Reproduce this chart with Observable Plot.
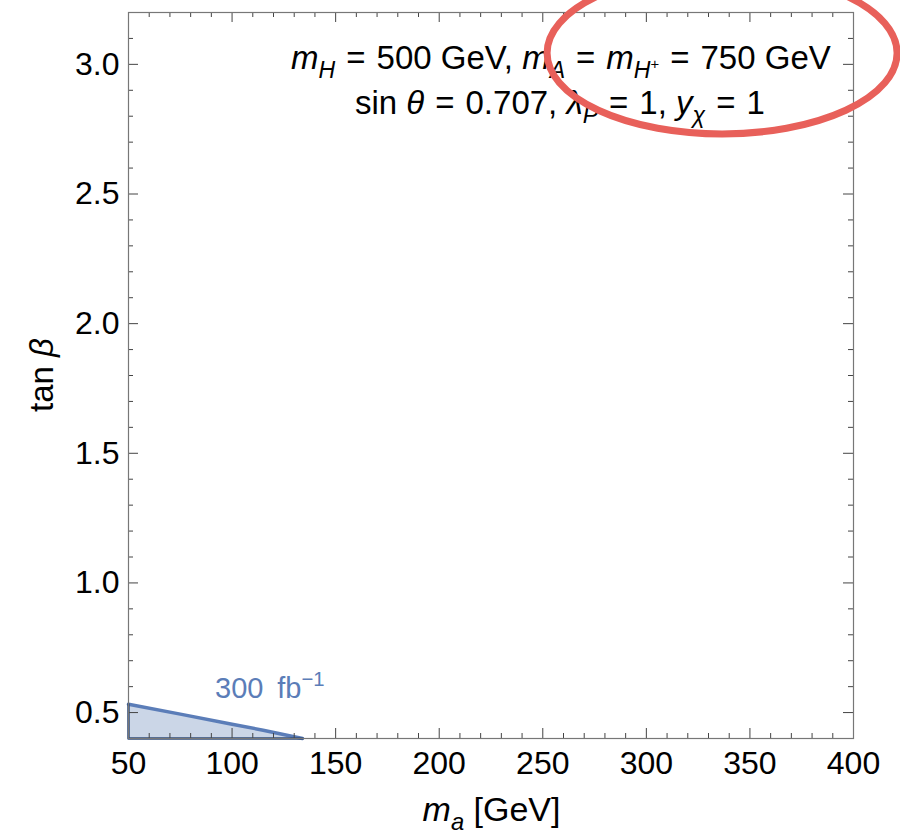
<!DOCTYPE html>
<html>
<head>
<meta charset="utf-8">
<script src="https://cdn.jsdelivr.net/npm/d3@7"></script>
<script src="https://cdn.jsdelivr.net/npm/@observablehq/plot@0.6"></script>
<style>
  html, body { margin: 0; padding: 0; background: #fff; }
  #chart svg { display: block; }
</style>
</head>
<body>
<div id="chart"></div>
<script>
// ---- data ----
const xDomain = [50, 400];
const yDomain = [0.4, 3.2];
const xTicks = [50, 100, 150, 200, 250, 300, 350, 400];
const yTicks = [0.5, 1.0, 1.5, 2.0, 2.5, 3.0];
const xMinorTicks = [60, 70, 80, 90, 110, 120, 130, 140, 160, 170, 180, 190, 210, 220, 230, 240, 260, 270, 280, 290, 310, 320, 330, 340, 360, 370, 380, 390];
const yMinorTicks = [0.6, 0.7, 0.8, 0.9, 1.1, 1.2, 1.3, 1.4, 1.6, 1.7, 1.8, 1.9, 2.1, 2.2, 2.3, 2.4, 2.6, 2.7, 2.8, 2.9, 3.1];
// boundary of the 300 fb^-1 excluded region (m_a, tan beta)
const boundaryMa = [50, 75, 100, 115, 134];
const boundaryTanB = [0.532, 0.494, 0.455, 0.432, 0.4];
const regionLabel = "300\u2009 fb";

const W = 900, H = 837;
const mL = 128, mR = 47, mT = 12, mB = 99;
const innerW = W - mL - mR, innerH = H - mT - mB;
const majorLen = 10, minorLen = 5;
const FONT = "'Liberation Sans', Arial, Helvetica, sans-serif";
const tickColor = "#444";
const blue = "#5B7DB8";
const EQ = "\u2004=\u2004";

const region = boundaryMa.map((x, i) => ({x, y: boundaryTanB[i]}));
const edge = [
  {x: boundaryMa[0], y: boundaryTanB[0]},
  {x: boundaryMa[0], y: yDomain[0]},
  {x: boundaryMa[boundaryMa.length - 1], y: yDomain[0]}
];

const plot = Plot.plot({
  width: W, height: H,
  marginLeft: mL, marginRight: mR, marginTop: mT, marginBottom: mB,
  style: {fontFamily: FONT, fontSize: "32px", color: "#000", background: "#fff"},
  x: {domain: xDomain, label: null},
  y: {domain: yDomain, label: null},
  marks: [
    Plot.areaY(region, {x: "x", y1: yDomain[0], y2: "y", fill: "#5E81B5", fillOpacity: 0.32}),
    Plot.line(region, {x: "x", y: "y", stroke: blue, strokeWidth: 3.5}),
    Plot.line(edge, {x: "x", y: "y", stroke: "#2F4C7E", strokeWidth: 2.5}),
    // bottom ticks
    Plot.ruleX(xTicks, {x: d => d, insetTop: innerH - majorLen, stroke: tickColor, strokeWidth: 1}),
    Plot.ruleX(xMinorTicks, {x: d => d, insetTop: innerH - minorLen, stroke: tickColor, strokeWidth: 1}),
    // top ticks
    Plot.ruleX(xTicks, {x: d => d, insetBottom: innerH - majorLen, stroke: tickColor, strokeWidth: 1}),
    Plot.ruleX(xMinorTicks, {x: d => d, insetBottom: innerH - minorLen, stroke: tickColor, strokeWidth: 1}),
    // left ticks
    Plot.ruleY(yTicks, {y: d => d, insetRight: innerW - majorLen, stroke: tickColor, strokeWidth: 1}),
    Plot.ruleY(yMinorTicks, {y: d => d, insetRight: innerW - minorLen, stroke: tickColor, strokeWidth: 1}),
    // right ticks
    Plot.ruleY(yTicks, {y: d => d, insetLeft: innerW - majorLen, stroke: tickColor, strokeWidth: 1}),
    Plot.ruleY(yMinorTicks, {y: d => d, insetLeft: innerW - minorLen, stroke: tickColor, strokeWidth: 1}),
    Plot.frame({stroke: "#777", strokeWidth: 1.2}),
    Plot.axisX(xTicks, {tickSize: 0, tickPadding: 13, fontSize: 32, fill: "#000", label: null}),
    Plot.axisY(yTicks, {tickSize: 0, tickPadding: 9, fontSize: 32, fill: "#000", label: null, tickFormat: d3.format(".1f")})
  ]
});

document.getElementById("chart").appendChild(plot);

const sx = plot.scale("x"), sy = plot.scale("y");
const svg = d3.select(plot);
svg.attr("overflow", "visible");

function richText(g, x, y, parts, {size, fill = "#000", anchor = "middle", transform = null}) {
  const t = g.append("text")
    .attr("x", x).attr("y", y)
    .attr("text-anchor", anchor)
    .attr("font-family", FONT)
    .attr("font-size", size)
    .attr("fill", fill);
  if (transform) t.attr("transform", transform);
  let shift = 0;
  for (const p of parts) {
    const s = p.shift || 0;
    const ts = t.append("tspan").text(p.t);
    if (p.i) ts.attr("font-style", "italic");
    if (p.s) ts.attr("font-size", size * p.s);
    if (s !== shift) ts.attr("dy", (s - shift) * size);
    shift = s;
  }
  return t;
}

const g = svg.append("g");

// annotation lines
richText(g, sx.apply(259), sy.apply(2.98), [
  {t: "m", i: true}, {t: "H", i: true, s: 0.7, shift: 0.28},
  {t: EQ + "500 GeV, "},
  {t: "m", i: true}, {t: "A", i: true, s: 0.7, shift: 0.28},
  {t: EQ},
  {t: "m", i: true}, {t: "H", i: true, s: 0.7, shift: 0.28}, {t: "+", s: 0.45, shift: 0.0},
  {t: EQ + "750 GeV"}
], {size: 33});

richText(g, sx.apply(258.5), sy.apply(2.807), [
  {t: "sin "}, {t: "θ", i: true},
  {t: EQ + "0.707, "},
  {t: "λ", i: true}, {t: "P", i: true, s: 0.7, shift: 0.28},
  {t: EQ + "1, "},
  {t: "y", i: true}, {t: "χ", i: true, s: 0.7, shift: 0.28},
  {t: EQ + "1"}
], {size: 33});

// region label
richText(g, sx.apply(92), sy.apply(0.553), [
  {t: regionLabel}, {t: "−1", s: 0.7, shift: -0.42}
], {size: 29, fill: blue, anchor: "start"});

// axis labels
richText(g, sx.apply(225.5), 821, [
  {t: "m", i: true}, {t: "a", i: true, s: 0.7, shift: 0.25}, {t: " [GeV]"}
], {size: 34});

const yMid = sy.apply(1.8);
richText(g, 53, yMid, [
  {t: "tan "}, {t: "β", i: true}
], {size: 33, transform: `rotate(-90, 53, ${yMid})`});

// red highlight ellipse (annotation)
svg.append("ellipse")
  .attr("cx", sx.apply(336.8)).attr("cy", sy.apply(3.042))
  .attr("rx", 175).attr("ry", 81)
  .attr("fill", "none")
  .attr("stroke", "#E8605A")
  .attr("stroke-width", 7);
</script>
</body>
</html>
